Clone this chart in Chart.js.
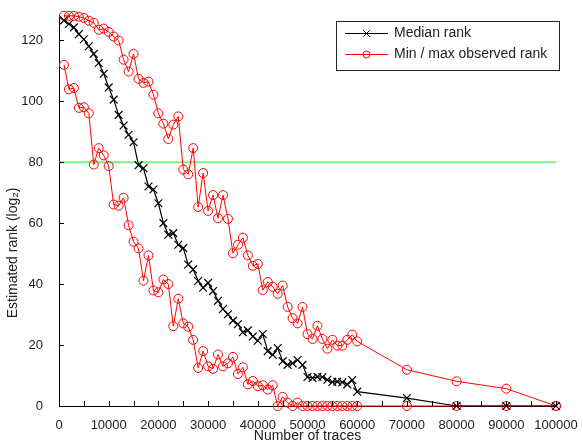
<!DOCTYPE html>
<html>
<head>
<meta charset="utf-8">
<script src="https://cdn.jsdelivr.net/npm/chart.js@4.4.1/dist/chart.umd.min.js"></script>
<style>
html, body { margin: 0; padding: 0; background: #fff; }
#wrap { width: 583px; height: 446px; }
</style>
</head>
<body>
<div id="wrap"><canvas id="c" width="583" height="446"></canvas></div>
<script>
// number of traces for every measurement
const traces = [
  1000, 2000, 3000, 4000, 5000, 6000, 7000, 8000, 9000, 10000,
  11000, 12000, 13000, 14000, 15000, 16000, 17000, 18000, 19000, 20000,
  21000, 22000, 23000, 24000, 25000, 26000, 27000, 28000, 29000, 30000,
  31000, 32000, 33000, 34000, 35000, 36000, 37000, 38000, 39000, 40000,
  41000, 42000, 43000, 44000, 45000, 46000, 47000, 48000, 49000, 50000,
  51000, 52000, 53000, 54000, 55000, 56000, 57000, 58000, 59000, 60000,
  70000, 80000, 90000, 100000
];
const medianRank = [
  126.5, 125.3, 124.2, 122.0, 120.3, 118.0, 115.5, 112.5, 109.0, 104.5,
  100.5, 95.5, 92.0, 89.0, 86.5, 79.0, 78.0, 72.0, 71.0, 66.5,
  60.0, 56.2, 56.7, 52.9, 51.8, 46.4, 44.8, 41.0, 38.8, 40.4,
  37.7, 34.5, 31.8, 30.1, 28.0, 26.8, 24.2, 24.8, 22.8, 21.4,
  23.6, 18.0, 16.8, 19.0, 14.7, 13.5, 14.0, 15.1, 13.5, 9.5,
  9.2, 9.6, 9.5, 8.6, 7.9, 8.0, 7.8, 7.1, 8.5, 4.7,
  2.6, 0, 0, 0
];
const maxRank = [
  128.0, 128.0, 128.0, 127.7, 127.3, 126.4, 125.7, 123.4, 123.8, 122.7,
  121.2, 119.9, 113.6, 109.7, 115.5, 107.3, 106.0, 106.4, 102.1, 96.0,
  92.6, 87.6, 92.3, 95.0, 77.6, 76.0, 84.6, 65.3, 76.4, 64.0,
  69.2, 61.6, 69.2, 61.4, 50.1, 52.9, 55.2, 49.4, 46.0, 46.6,
  38.0, 40.7, 39.1, 36.8, 39.5, 32.5, 28.8, 27.1, 32.5, 23.6,
  22.0, 26.3, 22.0, 18.8, 21.7, 19.8, 19.8, 21.7, 23.4, 21.2,
  11.9, 8.1, 5.7, 0
];
const minRank = [
  111.9, 103.9, 104.3, 97.8, 98.0, 96.0, 79.2, 84.6, 82.2, 78.7,
  66.1, 65.7, 68.3, 59.3, 53.9, 51.7, 41.1, 49.4, 37.9, 37.3,
  41.5, 40.0, 26.2, 35.2, 27.1, 26.0, 21.7, 12.5, 18.0, 13.0,
  12.2, 16.9, 13.0, 14.0, 16.1, 10.5, 12.7, 7.1, 8.2, 6.5,
  6.8, 5.4, 6.8, 0, 3.0, 1.1, 0, 1.1, 0, 0,
  0, 0, 0, 0, 0, 0, 0, 0, 0, 0,
  0, 0, 0, 0
];
const thresholdRank = 80;
const seriesLabels = ['Median rank', 'Min / max observed rank'];
const yTickValues = [0, 20, 40, 60, 80, 100, 120];
const yTitle = 'Estimated rank (log₂)';

const font = 'Liberation Sans, Arial, Helvetica, sans-serif';

function toPoints(ys) {
  return traces.map((t, i) => ({ x: t, y: ys[i] }));
}

// inward tick marks like the original plot
const inwardTicks = {
  id: 'inwardTicks',
  afterDatasetsDraw(chart) {
    const { ctx, scales: { x, y } } = chart;
    ctx.save();
    ctx.strokeStyle = '#000';
    ctx.lineWidth = 1;
    ctx.beginPath();
    for (let v = 0; v <= 100000; v += 5000) {
      const px = Math.round(x.getPixelForValue(v)) + 0.5;
      ctx.moveTo(px, y.bottom);
      ctx.lineTo(px, y.bottom - 5);
    }
    yTickValues.forEach(v => {
      const py = Math.round(y.getPixelForValue(v)) + 0.5;
      ctx.moveTo(x.left, py);
      ctx.lineTo(x.left + 5, py);
    });
    ctx.stroke();
    ctx.restore();
  }
};

// y title sits a bit lower than the middle of the axis in the original
const yTitlePlugin = {
  id: 'yTitlePlugin',
  afterDraw(chart) {
    const ctx = chart.ctx;
    ctx.save();
    ctx.translate(13, 253);
    ctx.rotate(-Math.PI / 2);
    ctx.fillStyle = '#222';
    ctx.font = '14px ' + font;
    ctx.textAlign = 'center';
    ctx.textBaseline = 'middle';
    ctx.fillText(yTitle, 0, 0);
    ctx.restore();
  }
};

// framed legend in the upper right
const boxLegend = {
  id: 'boxLegend',
  afterDraw(chart) {
    const ctx = chart.ctx;
    const x0 = 336.5, y0 = 21.5, w = 223, h = 49;
    ctx.save();
    ctx.fillStyle = '#fff';
    ctx.fillRect(x0, y0, w, h);
    ctx.strokeStyle = '#222';
    ctx.lineWidth = 1;
    ctx.strokeRect(x0, y0, w, h);
    const rows = [chart.data.datasets[0], chart.data.datasets[1]];
    rows.forEach((ds, i) => {
      const ry = 33.5 + i * 21;
      ctx.strokeStyle = ds.borderColor;
      ctx.lineWidth = 1;
      ctx.beginPath();
      ctx.moveTo(345, ry);
      ctx.lineTo(388, ry);
      ctx.stroke();
      ctx.fillStyle = 'rgba(0,0,0,0)';
      Chart.helpers.drawPoint(ctx, { pointStyle: ds.pointStyle, radius: i === 0 ? 4.5 : 3.5, rotation: 0, borderWidth: 1 }, 366.5, ry);
      ctx.fillStyle = '#222';
      ctx.font = '14px ' + font;
      ctx.textBaseline = 'middle';
      ctx.textAlign = 'left';
      ctx.fillText(seriesLabels[i], 394, ry);
    });
    ctx.restore();
  }
};

new Chart(document.getElementById('c'), {
  type: 'line',
  data: {
    datasets: [
      {
        label: seriesLabels[0],
        data: toPoints(medianRank),
        borderColor: '#000',
        borderWidth: 1.2,
        pointStyle: 'crossRot',
        pointRadius: 5.5,
        pointBorderWidth: 1.2,
        pointBorderColor: '#000',
        clip: false
      },
      {
        label: seriesLabels[1],
        data: toPoints(maxRank),
        borderColor: '#ff0000',
        borderWidth: 1,
        pointStyle: 'circle',
        pointRadius: 4.5,
        pointBorderWidth: 1,
        pointBorderColor: '#ff0000',
        pointBackgroundColor: 'rgba(255,255,255,0)',
        clip: false
      },
      {
        label: 'min',
        data: toPoints(minRank),
        borderColor: '#ff0000',
        borderWidth: 1,
        pointStyle: 'circle',
        pointRadius: 4.5,
        pointBorderWidth: 1,
        pointBorderColor: '#ff0000',
        pointBackgroundColor: 'rgba(255,255,255,0)',
        clip: false
      },
      {
        label: 'threshold',
        data: [{ x: 0, y: thresholdRank }, { x: 100000, y: thresholdRank }],
        borderColor: '#7ef07e',
        borderWidth: 2,
        pointRadius: 0
      }
    ]
  },
  options: {
    responsive: false,
    animation: false,
    layout: { padding: { top: 12, right: 27, left: 0, bottom: 0 } },
    plugins: {
      legend: { display: false },
      tooltip: { enabled: false }
    },
    scales: {
      x: {
        type: 'linear',
        min: 0,
        max: 100000,
        afterFit: s => { s.height = 40; },
        grid: { display: false },
        border: { display: true, color: '#000', width: 1 },
        ticks: {
          stepSize: 10000,
          maxRotation: 0,
          autoSkip: false,
          padding: 4,
          color: '#222',
          font: { family: font, size: 13 },
          callback: v => String(v)
        },
        title: {
          display: true,
          text: 'Number of traces',
          color: '#222',
          padding: { top: 0, bottom: 1 },
          font: { family: font, size: 14 }
        }
      },
      y: {
        type: 'linear',
        min: 0,
        max: 128,
        afterFit: s => { s.width = 59; },
        afterBuildTicks: s => { s.ticks = s.ticks.filter(t => yTickValues.includes(t.value)); },
        grid: { display: false },
        border: { display: true, color: '#000', width: 1 },
        ticks: {
          stepSize: 20,
          padding: 8,
          color: '#222',
          font: { family: font, size: 13 }
        },
        title: { display: false }
      }
    }
  },
  plugins: [inwardTicks, yTitlePlugin, boxLegend]
});
</script>
</body>
</html>
